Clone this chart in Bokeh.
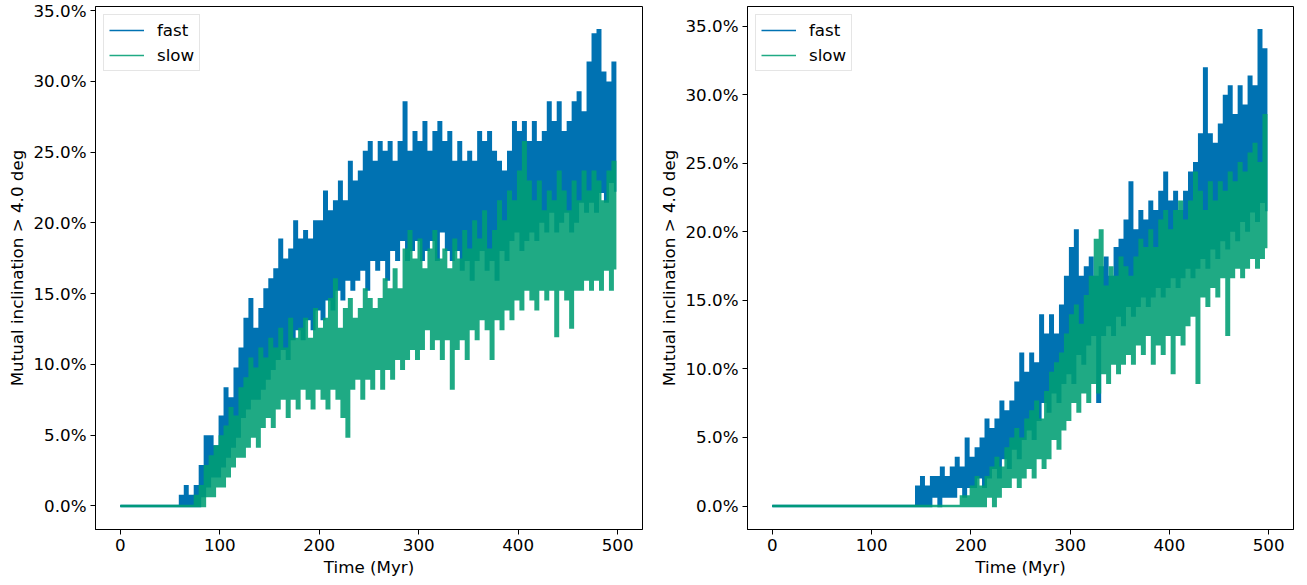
from bokeh.plotting import figure
from bokeh.layouts import row
from bokeh.models import Range1d, PrintfTickFormatter, FixedTicker, Legend, LegendItem
from bokeh.embed import file_html
from bokeh.resources import INLINE

# ---------------- data (percent) in 5 Myr bins ----------------
BIN_MYR = 5
series_names = ["fast", "slow"]
x_ticks = [0, 100, 200, 300, 400, 500]
y_ticks = [0, 5, 10, 15, 20, 25, 30, 35]

# left panel, "fast": upper and lower extent of each 5 Myr bin
left_fast_hi = [0] * 12 + [
    0.7, 1.4, 0.7, 1.4, 2.8, 4.9, 4.9, 4.2,
    6.3, 8.3, 7.6, 9.7, 11.1, 13.2, 14.6, 12.5, 13.9, 15.3,
    16.0, 16.7, 18.8, 17.4, 18.1, 20.1, 18.8, 19.4, 18.8, 20.1,
    20.1, 22.2, 20.8, 21.5, 22.9, 21.5, 24.3, 22.9, 23.6, 25.0,
    25.7, 24.3, 25.7, 25.0, 25.7, 24.3, 25.7, 28.5, 25.0, 26.4,
    25.7, 27.1, 25.0, 26.4, 27.1, 25.7, 26.4, 24.3, 25.7, 24.3,
    25.0, 24.3, 26.4, 25.7, 26.4, 25.0, 24.3, 23.6, 25.0, 27.1,
    26.4, 27.1, 25.7, 27.1, 25.7, 26.4, 28.5, 27.1, 28.5, 26.4,
    27.1, 28.5, 29.2, 27.8, 31.3, 33.3, 33.6, 30.6, 29.9, 31.3]
left_fast_lo = [0] * 12 + [
    0, 0, 0, 0, 0.7, 1.4, 2.1, 2.1,
    2.8, 3.5, 4.2, 4.9, 6.3, 6.9, 7.6, 7.6, 8.3, 9.0,
    9.7, 10.4, 11.1, 10.4, 11.8, 12.5, 11.8, 13.2, 12.5, 13.9,
    13.2, 14.6, 13.9, 15.3, 14.6, 16.0, 15.3, 16.0, 16.7, 15.3,
    17.4, 16.7, 17.4, 16.0, 18.1, 17.4, 18.8, 17.4, 18.1, 18.8,
    17.4, 18.1, 18.8, 17.4, 19.4, 18.1, 17.4, 18.1, 16.7, 17.4,
    16.0, 17.4, 18.1, 16.7, 17.4, 16.0, 18.1, 17.4, 18.8, 19.4,
    18.1, 18.8, 19.4, 18.8, 20.1, 19.4, 20.8, 19.4, 20.1, 20.8,
    19.4, 20.1, 21.5, 20.8, 21.5, 20.8, 22.2, 21.5, 22.9, 22.2]

# left panel, "slow"
left_slow_hi = [0] * 15 + [
    0.7, 1.4, 2.8, 3.5, 4.2,
    4.9, 5.6, 6.9, 6.3, 8.3, 9.0, 10.4, 9.7, 11.1, 10.4,
    11.8, 11.1, 12.5, 11.1, 13.2, 11.8, 12.5, 13.2, 11.8, 13.9,
    12.5, 13.2, 14.6, 16.0, 12.5, 13.9, 14.6, 13.2, 13.9, 15.3,
    14.6, 13.9, 14.6, 16.0, 15.3, 16.7, 15.3, 18.1, 19.4, 17.4,
    18.8, 16.7, 18.1, 19.4, 17.4, 18.1, 16.7, 18.8, 17.4, 19.4,
    18.1, 20.1, 18.8, 20.8, 18.1, 19.4, 21.5, 20.1, 22.2, 21.5,
    23.6, 25.7, 22.9, 21.5, 22.9, 20.8, 22.2, 21.5, 23.6, 22.2,
    20.8, 22.9, 21.5, 23.6, 22.2, 23.6, 22.9, 21.5, 23.6, 24.3]
left_slow_lo = [0] * 15 + [
    0, 0, 0.7, 0.7, 1.4,
    1.4, 2.1, 2.8, 3.5, 3.5, 4.2, 4.9, 4.2, 5.6, 6.3,
    5.6, 6.9, 7.6, 6.3, 7.6, 6.9, 8.3, 7.6, 6.9, 8.3,
    7.6, 6.9, 8.3, 7.6, 6.3, 4.9, 8.3, 9.0, 7.6, 9.0,
    8.3, 9.7, 8.3, 9.7, 9.0, 10.4, 9.7, 10.4, 11.1, 10.4,
    11.1, 12.5, 11.1, 11.8, 10.4, 11.8, 8.3, 11.1, 11.8, 10.4,
    12.5, 11.8, 13.2, 12.5, 10.4, 13.2, 12.5, 13.9, 13.2, 14.6,
    13.9, 15.3, 14.6, 13.9, 15.3, 14.6, 15.3, 12.0, 15.3, 14.6,
    12.6, 15.3, 15.3, 16.0, 15.3, 16.0, 15.3, 16.7, 15.3, 16.7]

# right panel, "fast"
right_fast_hi = [0] * 29 + [
    1.4, 2.1, 1.4, 2.1, 2.1, 2.8, 2.1, 2.8, 3.5, 2.8, 4.9,
    3.5, 4.2, 4.9, 6.3, 5.6, 6.3, 7.6, 6.9, 7.6, 9.0,
    11.1, 9.7, 11.1, 10.4, 13.9, 12.5, 13.9, 12.5, 14.6, 16.7,
    18.8, 20.1, 16.7, 17.4, 18.1, 16.7, 17.4, 18.1, 16.7, 18.8,
    19.4, 20.8, 23.6, 20.1, 21.5, 20.8, 22.2, 21.5, 22.9, 24.3,
    22.2, 22.9, 21.5, 22.9, 24.3, 25.0, 27.1, 31.9, 27.1, 26.4,
    27.8, 29.9, 30.6, 28.5, 30.6, 29.2, 31.3, 30.6, 34.7, 33.3]
right_fast_lo = [0] * 29 + [
    0, 0, 0, 0.7, 0, 0.7, 0.7, 0.7, 1.4, 0.7, 1.4,
    1.4, 2.1, 1.4, 2.1, 2.8, 2.1, 3.5, 2.8, 4.2, 3.5,
    4.9, 5.6, 4.9, 6.3, 7.6, 6.9, 8.3, 7.6, 9.0, 9.7,
    9.0, 11.1, 10.4, 11.8, 12.5, 7.6, 12.5, 13.2, 12.5, 13.9,
    13.2, 14.6, 13.9, 14.6, 15.3, 14.6, 15.3, 16.0, 15.3, 16.0,
    16.7, 16.0, 16.7, 17.4, 16.7, 17.4, 18.1, 17.4, 18.8, 18.1,
    19.4, 18.8, 20.1, 19.4, 20.8, 20.1, 21.5, 20.8, 22.2, 21.5]

# right panel, "slow"
right_slow_hi = [0] * 38 + [
    0.7, 0.7,
    1.4, 2.1, 1.4, 2.1, 2.8, 3.5, 2.8, 4.2, 4.9, 5.6,
    4.9, 6.3, 6.9, 7.6, 6.3, 8.3, 9.7, 10.4, 11.1, 12.5,
    13.9, 14.6, 13.2, 15.3, 16.7, 19.4, 20.1, 16.0, 17.4, 16.7,
    18.1, 17.4, 16.7, 18.1, 19.4, 18.8, 20.1, 18.8, 20.8, 21.5,
    20.1, 21.5, 22.2, 20.8, 22.2, 24.3, 22.9, 21.5, 23.6, 22.2,
    23.6, 22.9, 24.3, 23.6, 25.0, 24.3, 25.7, 26.4, 25.0, 28.5]
right_slow_lo = [0] * 38 + [
    0, 0,
    0, 0, 0, 0.7, 0, 0.7, 1.4, 1.4, 2.1, 1.4,
    2.1, 2.8, 2.1, 3.5, 2.8, 3.5, 4.9, 4.2, 5.6, 6.3,
    7.6, 6.9, 8.3, 7.6, 9.0, 8.3, 9.7, 9.0, 10.4, 9.7,
    10.4, 11.1, 10.4, 11.8, 11.1, 12.5, 10.4, 11.8, 11.1, 12.5,
    9.7, 12.5, 11.8, 13.2, 13.9, 9.0, 15.3, 14.6, 16.0, 15.3,
    16.7, 12.5, 16.7, 17.4, 16.7, 17.4, 18.1, 17.4, 18.1, 18.8]

# ---------------- styling ----------------
FONT = "DejaVu Sans"
FS = "16.7px"
COL_FAST = "#0072B2"
COL_SLOW = "#009E73"
SLOW_ALPHA = 0.88


def zigzag(hi, lo):
    """Upper value of each bin at its start, lower value half a bin later."""
    xs, ys = [], []
    for i, (h, l) in enumerate(zip(hi, lo)):
        xs += [i * BIN_MYR, i * BIN_MYR + BIN_MYR / 2]
        ys += [h, l]
    return xs, ys


def panel(fast_hi, fast_lo, slow_hi, slow_lo, y_lo, y_hi, width, bl, br):
    p = figure(width=width, height=585, x_range=Range1d(-25, 525),
               y_range=Range1d(y_lo, y_hi), output_backend="svg",
               toolbar_location=None, min_border_left=bl, min_border_right=br,
               min_border_top=6, min_border_bottom=56)
    p.grid.visible = False
    p.outline_line_color = "black"
    p.outline_line_width = 1
    p.background_fill_color = "white"
    p.border_fill_color = "white"

    fx, fy = zigzag(fast_hi, fast_lo)
    sx, sy = zigzag(slow_hi, slow_lo)

    # thin-line renderers (first bin only, hidden under the bands) for legend swatches
    k1 = p.line(fx[:2], fy[:2], line_color=COL_FAST, line_width=1.6)
    k2 = p.line(sx[:2], sy[:2], line_color=COL_SLOW, line_width=1.6,
                line_alpha=SLOW_ALPHA)

    p.step(fx, fy, mode="after", line_color=COL_FAST, line_width=2.5,
           line_join="miter")
    p.step(sx, sy, mode="after", line_color=COL_SLOW, line_width=2.5,
           line_alpha=SLOW_ALPHA, line_join="miter")

    p.xaxis.ticker = FixedTicker(ticks=x_ticks)
    p.yaxis.ticker = FixedTicker(ticks=y_ticks)
    p.yaxis.formatter = PrintfTickFormatter(format="%.1f%%")
    p.xaxis.axis_label = "Time (Myr)"
    p.yaxis.axis_label = "Mutual inclination > 4.0 deg"
    for ax in (p.xaxis, p.yaxis):
        ax.major_label_text_font = FONT
        ax.major_label_text_font_size = FS
        ax.major_label_text_color = "black"
        ax.axis_label_text_font = FONT
        ax.axis_label_text_font_size = FS
        ax.axis_label_text_font_style = "normal"
        ax.axis_label_text_color = "black"
        ax.axis_line_color = "black"
        ax.major_tick_line_color = "black"
        ax.major_tick_out = 5
        ax.major_tick_in = 0
        ax.minor_tick_out = 0
        ax.minor_tick_in = 0
        ax.major_label_standoff = 4
        ax.axis_label_standoff = 3

    legend = Legend(items=[LegendItem(label=series_names[0], renderers=[k1]),
                           LegendItem(label=series_names[1], renderers=[k2])],
                    location="top_left", margin=8, padding=5, spacing=5,
                    glyph_width=35, glyph_height=20, label_height=20,
                    label_standoff=13,
                    label_text_font=FONT, label_text_font_size=FS,
                    label_text_color="black",
                    border_line_color="#cccccc", border_line_width=1,
                    background_fill_alpha=0.8)
    p.add_layout(legend)
    return p


p1 = panel(left_fast_hi, left_fast_lo, left_slow_hi, left_slow_lo,
           -1.66, 35.28, 653, 95, 11)
p2 = panel(right_fast_hi, right_fast_lo, right_slow_hi, right_slow_lo,
           -1.71, 36.43, 654, 94, 14)

layout = row(p1, p2)
open("out.html", "w").write(file_html(layout, INLINE))
